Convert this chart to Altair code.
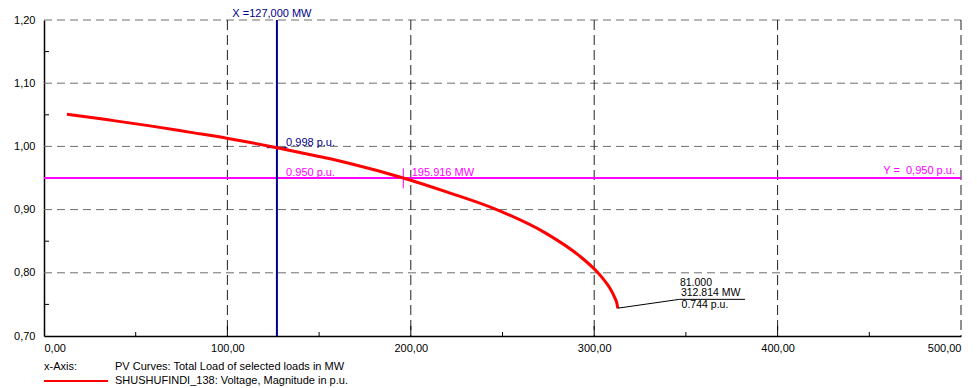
import altair as alt
import pandas as pd

# ---- data ----
load_mw = [12.5, 35, 57.8, 80, 99.6, 127, 150, 166.8, 195.9, 219.5, 246.8, 274,
           292.3, 301.4, 305, 308.5, 311, 312.5, 312.8]
voltage_pu = [1.051, 1.042, 1.0325, 1.0222, 1.013, 0.998, 0.984, 0.973, 0.950, 0.928,
              0.900, 0.862, 0.826, 0.802, 0.790, 0.776, 0.762, 0.750, 0.744]

x_marker = 127.0
y_marker = 0.950
x_cross = 195.916
v_at_marker = 0.998
end_load = 312.814
end_v = 0.744

x_ticks = [0, 100, 200, 300, 400, 500]
x_minor = [50, 150, 250, 350, 450]
x_major_inner = [100, 200, 300, 400]
y_ticks = [0.70, 0.80, 0.90, 1.00, 1.10, 1.20]
y_minor = [0.75, 0.85, 0.95, 1.05, 1.15]

FONT = "Liberation Sans"
NAVY = "#00008B"
MAG = "#FF00FF"
RED = "#FF0000"

W, H = 917, 316
xs = alt.Scale(domain=[0, 500], nice=False, zero=False)
ys = alt.Scale(domain=[0.70, 1.20], nice=False, zero=False)

curve_df = pd.DataFrame({"P": load_mw, "V": voltage_pu, "i": range(len(load_mw))})

label_expr = "replace(format(datum.value, '.2f'), '.', ',')"

curve = alt.Chart(curve_df).mark_line(color=RED, strokeWidth=3, interpolate="monotone").encode(
    x=alt.X("P:Q", scale=xs,
            axis=alt.Axis(values=x_ticks, labelExpr=label_expr, title=None, ticks=False,
                          grid=False, domainColor="#000", domainWidth=1.5,
                          labelFont=FONT, labelFontSize=11, labelColor="#000",
                          labelPadding=6)),
    y=alt.Y("V:Q", scale=ys,
            axis=alt.Axis(values=y_ticks, labelExpr=label_expr, title=None, ticks=False,
                          grid=False, domainColor="#000", domainWidth=1.5,
                          labelFont=FONT, labelFontSize=11, labelColor="#000",
                          labelPadding=9)),
    order="i:Q",
)

# grid lines
ygrid = alt.Chart(pd.DataFrame({"v": y_ticks[1:]})).mark_rule(
    color="#6e6e6e", strokeWidth=1, strokeDash=[8, 5]).encode(
    y=alt.Y("v:Q", scale=ys), x=alt.value(0), x2=alt.value(W))
xgrid = alt.Chart(pd.DataFrame({"p": x_ticks[1:]})).mark_rule(
    color="#222222", strokeWidth=1, strokeDash=[10, 5]).encode(
    x=alt.X("p:Q", scale=xs), y=alt.value(0), y2=alt.value(H))

# inner ticks
xminor = alt.Chart(pd.DataFrame({"p": x_minor})).mark_rule(color="#000", strokeWidth=1).encode(
    x=alt.X("p:Q", scale=xs), y=alt.value(H), y2=alt.value(H - 4))
xmajor = alt.Chart(pd.DataFrame({"p": x_major_inner})).mark_rule(color="#000", strokeWidth=1).encode(
    x=alt.X("p:Q", scale=xs), y=alt.value(H), y2=alt.value(H - 10))
yminor = alt.Chart(pd.DataFrame({"v": y_minor})).mark_rule(color="#000", strokeWidth=1).encode(
    y=alt.Y("v:Q", scale=ys), x=alt.value(0), x2=alt.value(5))

# markers
vline = alt.Chart(pd.DataFrame({"p": [x_marker]})).mark_rule(color=NAVY, strokeWidth=2).encode(
    x=alt.X("p:Q", scale=xs), y=alt.value(0), y2=alt.value(H))
hline = alt.Chart(pd.DataFrame({"v": [y_marker]})).mark_rule(color=MAG, strokeWidth=2).encode(
    y=alt.Y("v:Q", scale=ys), x=alt.value(0), x2=alt.value(W))
mtick = alt.Chart(pd.DataFrame({"p": [x_cross], "v1": [0.9654], "v2": [0.9337]})).mark_rule(
    color=MAG, strokeWidth=1).encode(
    x=alt.X("p:Q", scale=xs), y=alt.Y("v1:Q", scale=ys), y2="v2:Q")
ntick = alt.Chart(pd.DataFrame({"p1": [121.4], "p2": [132.7], "v": [v_at_marker]})).mark_rule(
    color=NAVY, strokeWidth=1).encode(
    x=alt.X("p1:Q", scale=xs), x2="p2:Q", y=alt.Y("v:Q", scale=ys))

# end annotation leader + underline
leader_df = pd.DataFrame({"p": [end_load, 346.4, 382.2], "v": [end_v, 0.758, 0.758], "i": [0, 1, 2]})
leader = alt.Chart(leader_df).mark_line(color="#000", strokeWidth=1).encode(
    x=alt.X("p:Q", scale=xs), y=alt.Y("v:Q", scale=ys), order="i:Q")


def txt(df, color, align="left", baseline="middle", dy=0, dx=0, size=11):
    return alt.Chart(pd.DataFrame(df)).mark_text(
        color=color, align=align, baseline=baseline, font=FONT, fontSize=size, dy=dy, dx=dx
    ).encode(x=alt.X("p:Q", scale=xs), y=alt.Y("v:Q", scale=ys), text="t:N")


t_x = txt({"p": [x_marker], "v": [1.20], "t": ["X =127,000 MW"]}, NAVY, align="center",
          baseline="bottom", dy=-1, dx=-5)
t_998 = txt({"p": [132], "v": [1.006], "t": ["0.998 p.u."]}, NAVY)
t_950 = txt({"p": [132, 200.5], "v": [0.9585, 0.9585], "t": ["0.950 p.u.", "195.916 MW"]}, MAG)
t_y = txt({"p": [496.7], "v": [0.9616], "t": ["Y = \u00a00,950 p.u."]}, MAG, align="right")
t_end = txt({"p": [355.5, 363.5, 360.4], "v": [0.7845, 0.7676, 0.7495],
             "t": ["81.000", "312.814 MW", "0.744 p.u."]}, "#000", align="center", size=10.5)

# legend below the plot
legend_text = alt.Chart(pd.DataFrame({"t": ["x-Axis:"]})).mark_text(
    align="left", baseline="middle", font=FONT, fontSize=11, color="#000").encode(
    x=alt.value(0), y=alt.value(H + 31), text="t:N")
legend_text2 = alt.Chart(pd.DataFrame({"t": ["PV Curves: Total Load of selected loads in MW"]})).mark_text(
    align="left", baseline="middle", font=FONT, fontSize=11, color="#000").encode(
    x=alt.value(71), y=alt.value(H + 31), text="t:N")
legend_text3 = alt.Chart(pd.DataFrame({"t": ["SHUSHUFINDI_138: Voltage, Magnitude in p.u."]})).mark_text(
    align="left", baseline="middle", font=FONT, fontSize=11, color="#000").encode(
    x=alt.value(71), y=alt.value(H + 45), text="t:N")
legend_line = alt.Chart(pd.DataFrame({"a": [0]})).mark_rule(color=RED, strokeWidth=2).encode(
    x=alt.value(0), x2=alt.value(64), y=alt.value(H + 45))

chart = alt.layer(
    ygrid, xgrid, xminor, xmajor, yminor, hline, vline, mtick, ntick, curve, leader,
    t_x, t_998, t_950, t_y, t_end, legend_text, legend_text2, legend_text3, legend_line
).properties(
    width=W, height=H,
    autosize=alt.AutoSizeParams(type="none"),
    padding={"left": 44, "top": 20, "right": 16, "bottom": 52},
    background="white",
).configure_view(stroke=None)

chart.save("out.html", embed_options={"renderer": "svg", "actions": False})
